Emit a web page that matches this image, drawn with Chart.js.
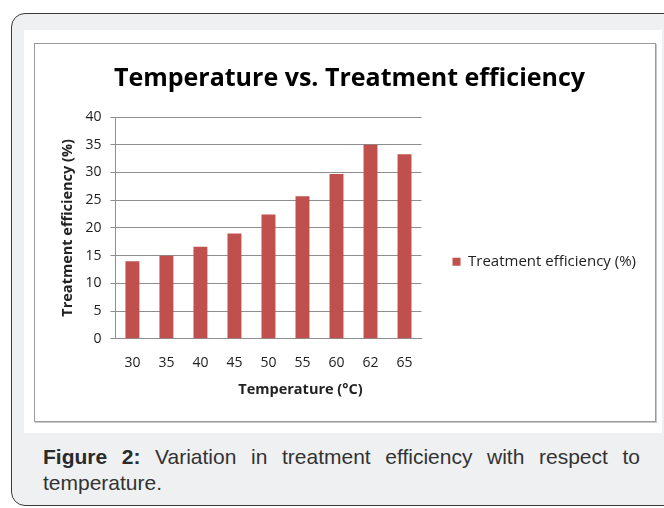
<!DOCTYPE html>
<html>
<head>
<meta charset="utf-8">
<script src="https://cdn.jsdelivr.net/npm/chart.js@4.4.0/dist/chart.umd.min.js"></script>
<style>
  html, body { margin: 0; padding: 0; background: #fff; }
  body { width: 664px; height: 508px; position: relative; overflow: hidden; }
  #card {
    position: absolute; left: 11px; top: 13px; width: 720px; height: 491px;
    border: 1.5px solid #3a3a3a; border-radius: 14px; background: #eff0f2;
  }
  #panel { position: absolute; left: 24px; top: 30px; width: 638px; height: 403px; background: #fff; }
  #frame {
    position: absolute; left: 34px; top: 43px; width: 620px; height: 377px;
    border: 1px solid #9a9a9a; box-shadow: 1px 1px 0 #c8c8c8; background: #fff;
  }
  #frame canvas { display: block; }
  #caption {
    position: absolute; left: 43px; top: 444px; width: 597px;
    font-family: "Liberation Sans", Arial, sans-serif; font-size: 21px; line-height: 26px;
    color: #333; text-align: justify;
  }
  #caption b { color: #2a2a2a; }
</style>
</head>
<body>
<div id="card"></div>
<div id="panel"></div>
<div id="frame"><canvas id="myChart" width="620" height="377"></canvas></div>
<div id="caption"><b>Figure 2:</b> Variation in treatment efficiency with respect to temperature.</div>

<script>
// chart data

const temperatures = ["30", "35", "40", "45", "50", "55", "60", "62", "65"];
const efficiency = [14, 15, 16.6, 19, 22.4, 25.7, 29.7, 35, 33.3];
const yMin = 0;
const yMax = 40;
const yStep = 5;

const gridGray = "#8e8e8e";
const textDark = "#222";

Chart.defaults.font.family = "'Open Sans', sans-serif";

const ctx = document.getElementById("myChart");

new Chart(ctx, {
  type: "bar",
  data: {
    labels: temperatures,
    datasets: [
      {
        label: "Treatment efficiency (%)",
        data: efficiency,
        backgroundColor: "#c0504d",
        borderWidth: 0,
        barPercentage: 0.82,
        categoryPercentage: 0.5,
      },
    ],
  },
  options: {
    responsive: false,
    animation: false,
    layout: {
      padding: { left: 18, right: 9, top: 0, bottom: 22 },
    },
    plugins: {
      title: {
        display: true,
        text: "Temperature vs. Treatment efficiency",
        color: "#000",
        font: { size: 25, weight: "bold" },
        padding: { top: 20, bottom: 23 },
      },
      legend: {
        position: "right",
        align: "center",
        maxWidth: 300,
        // empty title only pushes the entry down like in the original
        title: { display: true, text: "", padding: { top: 66, bottom: 0 } },
        labels: {
          boxWidth: 8,
          boxHeight: 8,
          padding: 31,
          color: textDark,
          font: { size: 15 },
        },
      },
      tooltip: { enabled: false },
    },
    scales: {
      x: {
        grid: { display: false, drawTicks: false },
        border: { color: gridGray },
        ticks: { padding: 16, color: textDark, font: { size: 14 } },
        title: {
          display: true,
          text: "                 Temperature (°C)",
          color: textDark,
          font: { size: 14.5, weight: "bold" },
          padding: { top: -6, bottom: 0 },
        },
      },
      y: {
        min: yMin,
        max: yMax,
        ticks: { stepSize: yStep, padding: 9, color: textDark, font: { size: 14 } },
        grid: { color: gridGray, tickLength: 5 },
        border: { color: gridGray },
        title: {
          display: true,
          text: "Treatment efficiency (%)",
          color: textDark,
          font: { size: 14.5, weight: "bold" },
          padding: { top: 6, bottom: 0 },
        },
      },
    },
  },
});
</script>
</body>
</html>
